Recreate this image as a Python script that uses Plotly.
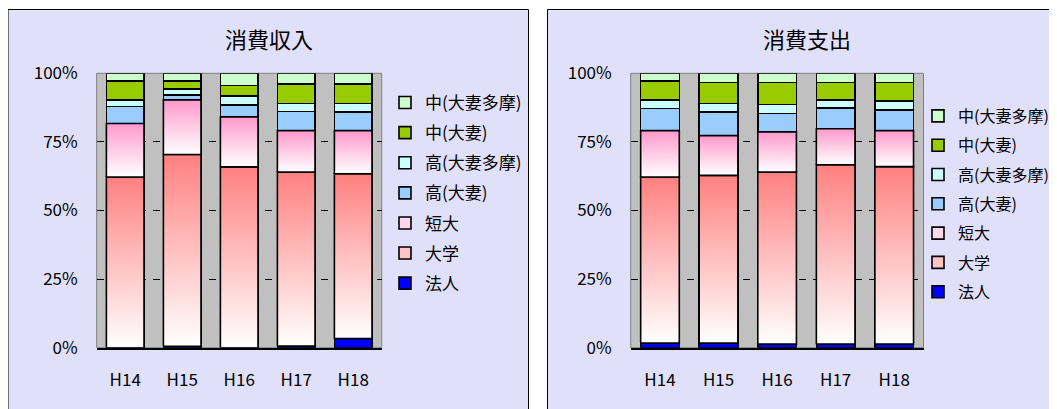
import plotly.graph_objects as go

# ---------------- data ----------------
years = ["H14", "H15", "H16", "H17", "H18"]
series_names = ["法人", "大学", "短大", "高(大妻)", "高(大妻多摩)", "中(大妻)", "中(大妻多摩)"]

# 消費収入 (percent share)
inc_hojin = [0.0, 0.5, 0.0, 0.6, 3.3]
inc_daigaku = [62.2, 69.9, 65.9, 63.4, 60.1]
inc_tandai = [19.5, 19.9, 18.2, 15.1, 15.7]
inc_kou_otsuma = [6.2, 1.9, 4.4, 7.0, 6.9]
inc_kou_tama = [2.4, 2.0, 3.2, 2.9, 3.0]
inc_chu_otsuma = [7.0, 3.1, 3.8, 7.0, 7.0]
inc_chu_tama = [2.7, 2.7, 4.5, 4.0, 4.0]

# 消費支出 (percent share)
exp_hojin = [1.7, 1.7, 1.3, 1.3, 1.3]
exp_daigaku = [60.5, 61.1, 62.7, 65.4, 64.7]
exp_tandai = [16.9, 14.5, 14.6, 13.1, 13.1]
exp_kou_otsuma = [8.1, 8.7, 6.8, 7.5, 7.5]
exp_kou_tama = [3.1, 3.0, 3.3, 3.0, 3.2]
exp_chu_otsuma = [7.0, 7.7, 8.0, 6.4, 6.9]
exp_chu_tama = [2.7, 3.3, 3.3, 3.3, 3.3]

y_tick_vals = [0, 25, 50, 75, 100]
y_tick_text = ["0%", "25%", "50%", "75%", "100%"]
grid_vals = [25, 50, 75]

# ---------------- styles ----------------
solid_colors = {
    "法人": "#0000ff",
    "高(大妻)": "#99ccff",
    "高(大妻多摩)": "#ccffff",
    "中(大妻)": "#99cc00",
    "中(大妻多摩)": "#ccffcc",
}
gradient_tops = {"大学": "#ff8080", "短大": "#ff99cc"}
legend_icon = {"大学": "#ffc4c4", "短大": "#ffd6ea"}

OFF = 8                      # page body margin
W, H = 1057, 409
FONT = "Noto Sans CJK JP"
BAR_W = 0.66


def px_x(p):                 # screen pixel -> paper x
    return (p - OFF) / W


def px_y(p):                 # screen pixel -> paper y
    return 1 - (p - OFF) / H


panels = [
    dict(title="消費収入", xa="x", ya="y", legend="legend",
         series=[inc_hojin, inc_daigaku, inc_tandai, inc_kou_otsuma,
                 inc_kou_tama, inc_chu_otsuma, inc_chu_tama]),
    dict(title="消費支出", xa="x2", ya="y2", legend="legend2",
         series=[exp_hojin, exp_daigaku, exp_tandai, exp_kou_otsuma,
                 exp_kou_tama, exp_chu_otsuma, exp_chu_tama]),
]

fig = go.Figure()
xs = list(range(len(years)))
n_series = len(series_names)

for p in panels:
    base = [0.0] * len(years)
    for k, (name, vals) in enumerate(zip(series_names, p["series"])):
        color = solid_colors.get(name, legend_icon.get(name))
        fig.add_trace(go.Bar(
            x=xs, y=vals, base=base[:], name=name, width=BAR_W,
            xaxis=p["xa"], yaxis=p["ya"], legend=p["legend"],
            legendgroup=p["legend"] + name, legendrank=n_series - k,
            marker=dict(color=color, line=dict(color="black", width=1.6)),
        ))
        if name in gradient_tops:
            for i, v in enumerate(vals):
                b, t = base[i], base[i] + v
                x0, x1 = i - BAR_W / 2, i + BAR_W / 2
                fig.add_trace(go.Scatter(
                    x=[x0, x1, x1, x0, x0], y=[b, b, t, t, b],
                    mode="lines", fill="toself",
                    fillgradient=dict(type="vertical",
                                      colorscale=[[0, "#ffffff"], [1, gradient_tops[name]]]),
                    line=dict(color="black", width=1.6),
                    xaxis=p["xa"], yaxis=p["ya"], showlegend=False, hoverinfo="skip",
                ))
        base = [b + v for b, v in zip(base, vals)]

# ---------------- layout ----------------
left_dom = [px_x(96.7), px_x(381.7)]
right_dom = [px_x(630.7), px_x(923.5)]
y_dom = [px_y(347.7), px_y(73.3)]

axis_font = dict(family=FONT, size=17, color="black")


def xaxis(domain, anchor):
    return dict(domain=domain, anchor=anchor, range=[-0.5, 4.5],
                tickmode="array", tickvals=xs, ticktext=years,
                showgrid=False, zeroline=False, showline=True,
                linecolor="black", linewidth=1.5, ticks="",
                tickfont=axis_font, ticklabelstandoff=16, automargin=False,
                fixedrange=True)


def yaxis(anchor):
    return dict(domain=y_dom, anchor=anchor, range=[0, 100],
                tickmode="array", tickvals=y_tick_vals, ticktext=y_tick_text,
                showgrid=False, zeroline=False, showline=False, ticks="",
                tickfont=axis_font, ticklabelstandoff=18, automargin=False,
                minor=dict(tickmode="array", tickvals=grid_vals, showgrid=True,
                           gridcolor="black", gridwidth=1, griddash="7px,7px"),
                fixedrange=True)


shapes = [
    # panel backgrounds
    dict(type="rect", xref="paper", yref="paper", x0=px_x(8), x1=px_x(528.5),
         y0=-0.05, y1=px_y(9.5), fillcolor="#e0e0fa",
         line=dict(color="black", width=1), layer="below"),
    dict(type="rect", xref="paper", yref="paper", x0=px_x(547.5), x1=1.05,
         y0=-0.05, y1=px_y(9.5), fillcolor="#e0e0fa",
         line=dict(color="black", width=1), layer="below"),
    # plot area backgrounds
    dict(type="rect", xref="paper", yref="paper", x0=left_dom[0], x1=left_dom[1],
         y0=y_dom[0], y1=y_dom[1], fillcolor="#c0c0c0",
         line=dict(color="#808080", width=1), layer="below"),
    dict(type="rect", xref="paper", yref="paper", x0=right_dom[0], x1=right_dom[1],
         y0=y_dom[0], y1=y_dom[1], fillcolor="#c0c0c0",
         line=dict(color="#808080", width=1), layer="below"),
]

annotations = [
    dict(text=panels[0]["title"], xref="paper", yref="paper", x=px_x(269), y=px_y(38),
         xanchor="center", yanchor="middle", showarrow=False,
         font=dict(family=FONT, size=22, color="black")),
    dict(text=panels[1]["title"], xref="paper", yref="paper", x=px_x(807), y=px_y(38),
         xanchor="center", yanchor="middle", showarrow=False,
         font=dict(family=FONT, size=22, color="black")),
]

legend_font = dict(family=FONT, size=17, color="black")
legend2_font = dict(family=FONT, size=16, color="black")

fig.update_layout(
    width=W, height=H,
    margin=dict(l=0, r=0, t=0, b=0),
    paper_bgcolor="white", plot_bgcolor="rgba(0,0,0,0)",
    barmode="stack",
    showlegend=True,
    xaxis=xaxis(left_dom, "y"),
    yaxis=yaxis("x"),
    xaxis2=xaxis(right_dom, "y2"),
    yaxis2=yaxis("x2"),
    shapes=shapes,
    annotations=annotations,
    legend=dict(x=px_x(385), y=px_y(85), xanchor="left", yanchor="top",
                bgcolor="rgba(0,0,0,0)", font=legend_font,
                traceorder="grouped", tracegroupgap=5, itemclick=False),
    legend2=dict(x=px_x(918), y=px_y(99), xanchor="left", yanchor="top",
                 bgcolor="rgba(0,0,0,0)", font=legend2_font,
                 traceorder="grouped", tracegroupgap=5.5, itemclick=False),
    font=dict(family=FONT, color="black"),
)

fig.write_html("out.html")
